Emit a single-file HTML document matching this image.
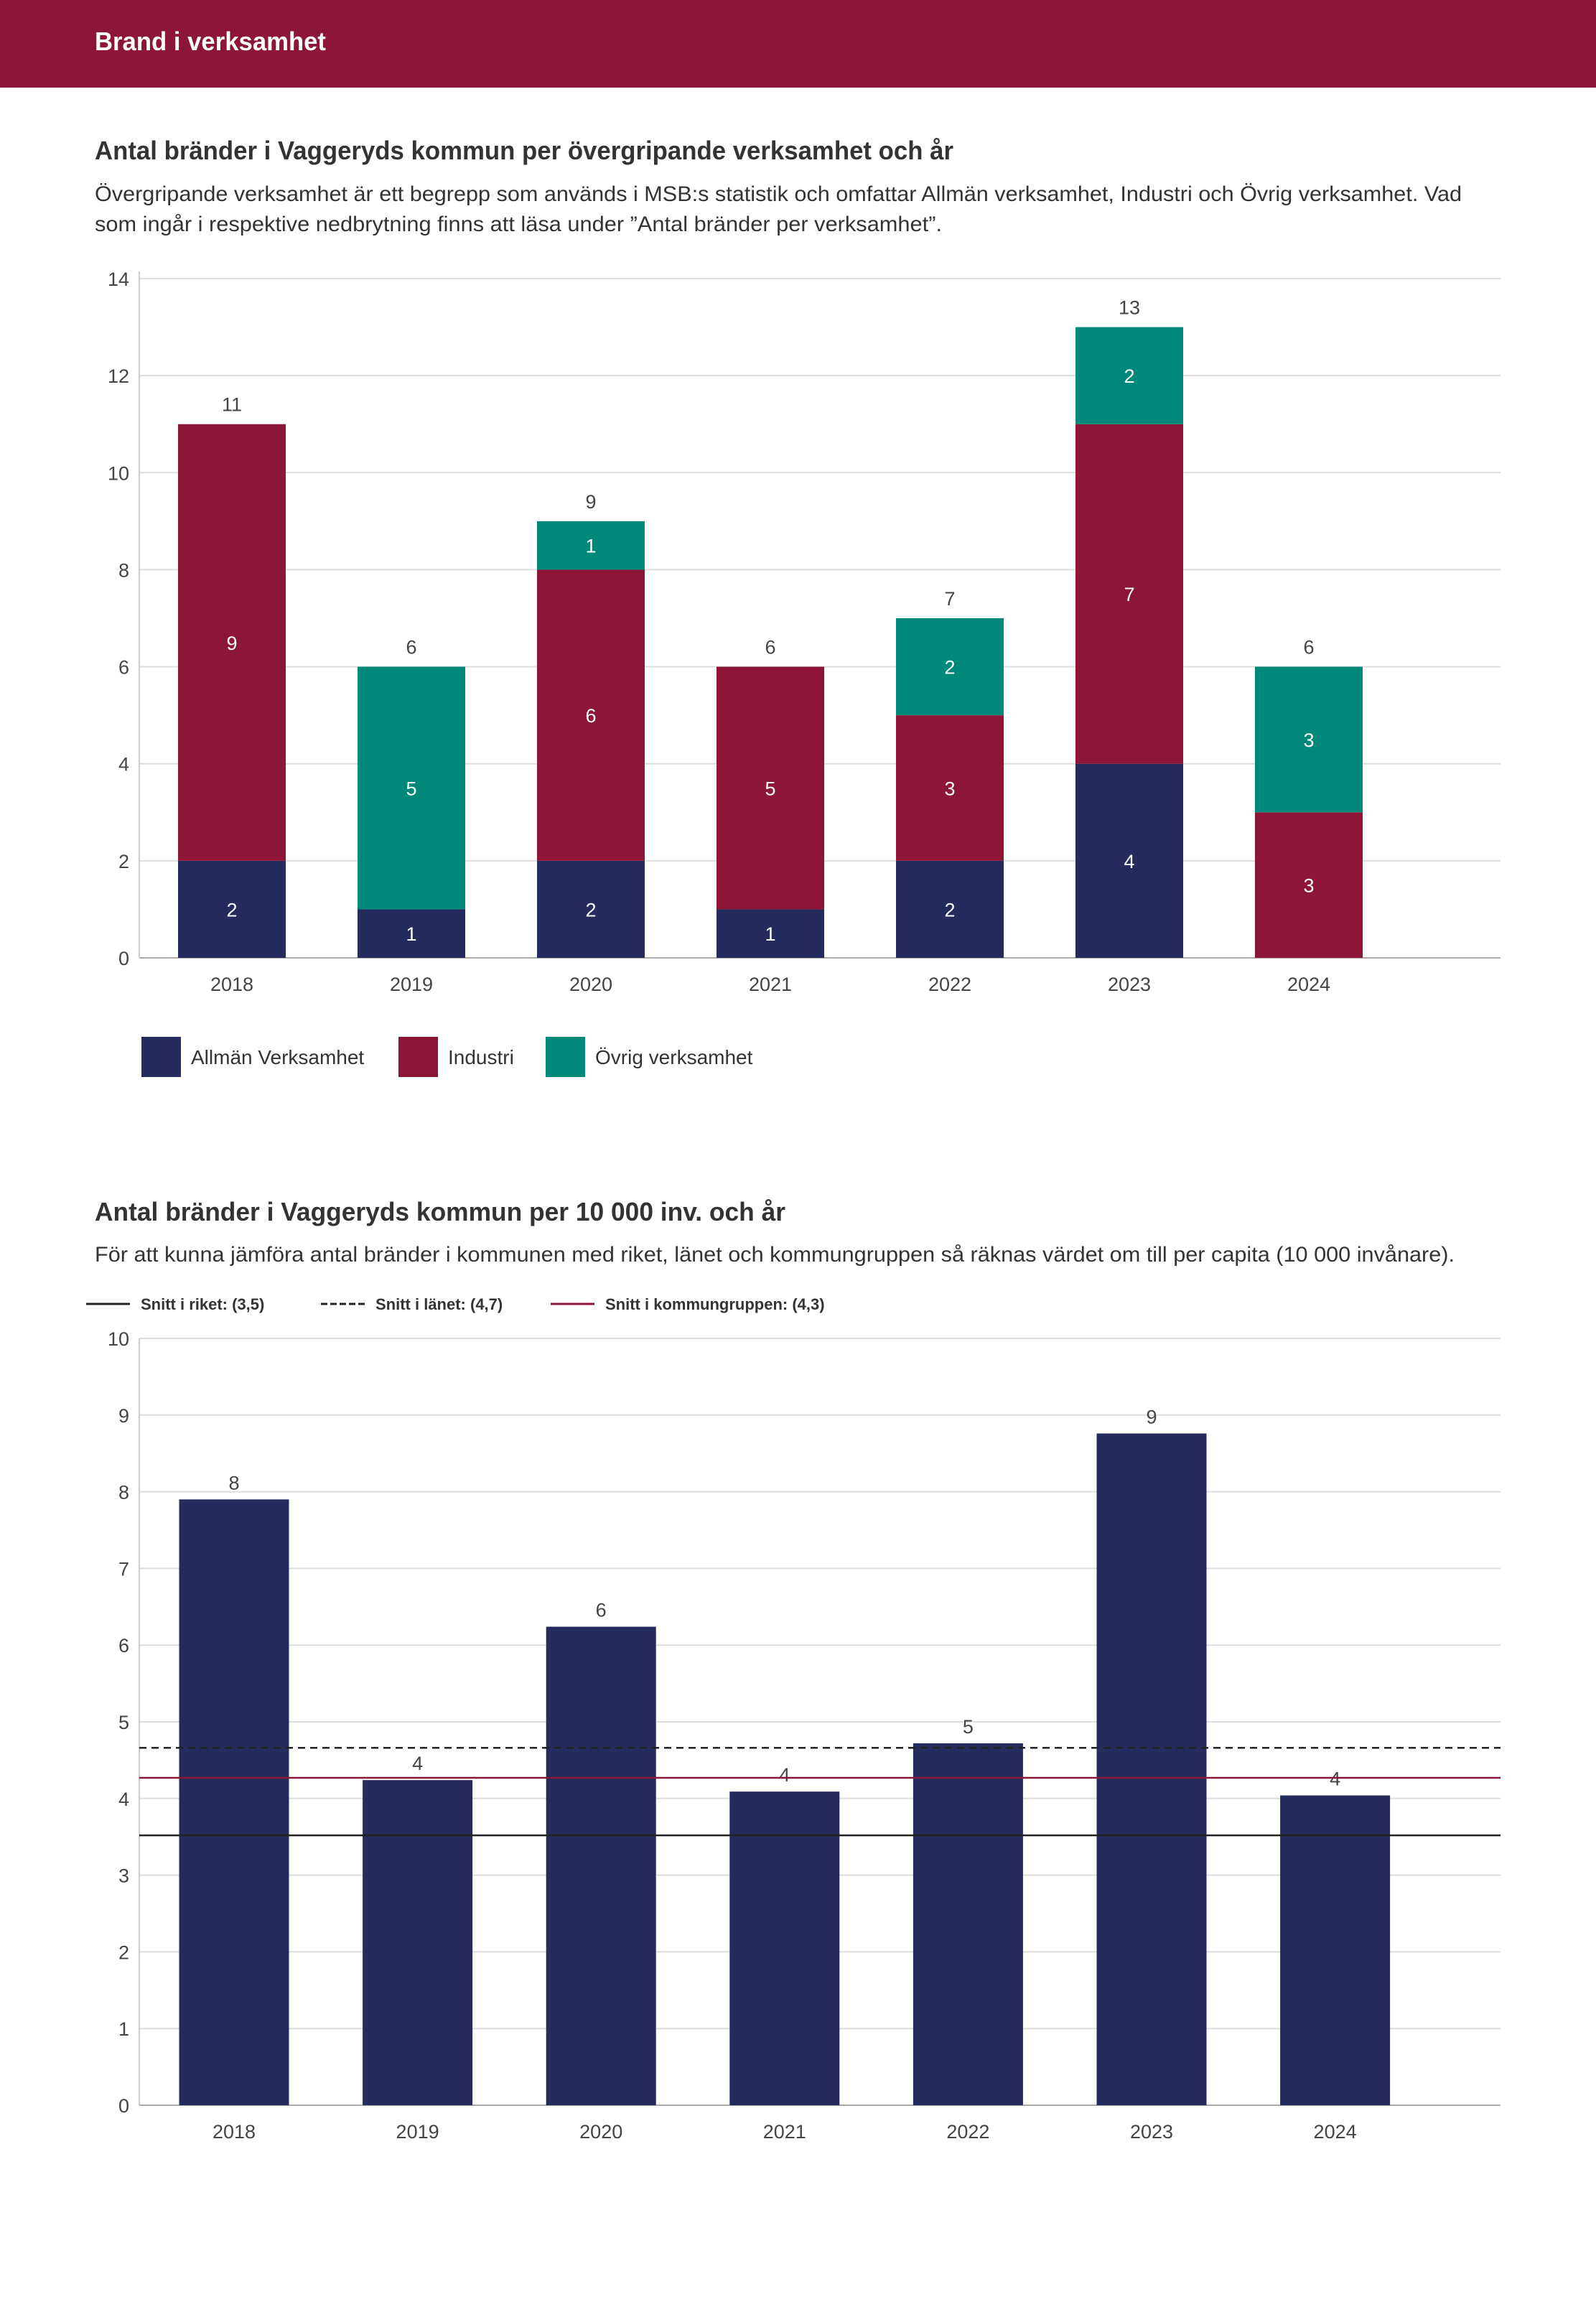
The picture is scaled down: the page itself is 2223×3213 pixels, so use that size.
<!DOCTYPE html>
<html><head><meta charset="utf-8"><style>
html,body{margin:0;padding:0;background:#fff;}
svg{display:block;font-family:"Liberation Sans",sans-serif;}
</style></head><body>
<svg id="page" width="2223" height="3213" viewBox="0 0 2223 3213" xmlns="http://www.w3.org/2000/svg">
<rect x="0" y="0" width="2223" height="122" fill="#8c1538"/>
<text x="132" y="70" fill="#fff" font-size="36" font-weight="bold" textLength="322" lengthAdjust="spacingAndGlyphs">Brand i verksamhet</text>
<text x="132" y="222" fill="#333" font-size="36" font-weight="bold" textLength="1196" lengthAdjust="spacingAndGlyphs">Antal bränder i Vaggeryds kommun per övergripande verksamhet och år</text>
<text x="132" y="280" fill="#333" font-size="30" textLength="1904" lengthAdjust="spacingAndGlyphs">Övergripande verksamhet är ett begrepp som används i MSB:s statistik och omfattar Allmän verksamhet, Industri och Övrig verksamhet. Vad</text>
<text x="132" y="322" fill="#333" font-size="30" textLength="1180" lengthAdjust="spacingAndGlyphs">som ingår i respektive nedbrytning finns att läsa under ”Antal bränder per verksamhet”.</text>
<g id="c1"></g>
<g id="l1"></g>
<text x="132" y="1700" fill="#333" font-size="36" font-weight="bold" textLength="962" lengthAdjust="spacingAndGlyphs">Antal bränder i Vaggeryds kommun per 10 000 inv. och år</text>
<text x="132" y="1757" fill="#333" font-size="30" textLength="1894" lengthAdjust="spacingAndGlyphs">För att kunna jämföra antal bränder i kommunen med riket, länet och kommungruppen så räknas värdet om till per capita (10 000 invånare).</text>
<g id="l2"></g>
<g id="c2"></g>
</svg>
<script>
const years = ["2018","2019","2020","2021","2022","2023","2024"];
const allman = [2,1,2,1,2,4,0];
const industri = [9,0,6,5,3,7,3];
const ovrig = [0,5,1,0,2,2,3];
const ticks1 = [0,2,4,6,8,10,12,14];
const perCapita = [7.9,4.24,6.24,4.09,4.72,8.76,4.04];
const perCapitaLabels = ["8","4","6","4","5","9","4"];
const ticks2 = [0,1,2,3,4,5,6,7,8,9,10];
const refNames = ["Snitt i riket: (3,5)","Snitt i länet: (4,7)","Snitt i kommungruppen: (4,3)"];
const refValues = [3.52,4.66,4.27];

const NS="http://www.w3.org/2000/svg";
function mk(parent,tag,attrs,txt){const e=document.createElementNS(NS,tag);for(const k in attrs)e.setAttribute(k,attrs[k]);if(txt!==undefined)e.textContent=txt;parent.appendChild(e);return e;}
const NAVY="#252b5c",RED="#8c1538",TEAL="#00897b";

// Chart 1
(function(){
const g=document.getElementById('c1');
const L=194,R=2090,Y0=1334,Y1=388,maxV=14;
const y=v=>Y0-(v/maxV)*(Y0-Y1);
const cx=i=>323+i*250;
const bw=150;
ticks1.forEach(t=>{
 const ln=mk(g,'line',{x1:L,x2:R,y1:y(t),y2:y(t),stroke:t===0?'#aaa':'#ddd','stroke-width':2});
 
 
 const tx=mk(g,'text',{x:L-14,y:y(t)+10,'text-anchor':'end','font-size':27,fill:'#444'},String(t));
 
 
});
const ax=mk(g,'line',{x1:L,x2:L,y1:Y1-10,y2:Y0,stroke:'#ccc','stroke-width':2});


const series=[[allman,NAVY],[industri,RED],[ovrig,TEAL]];
years.forEach((yr,i)=>{
 let base=0;
 series.forEach(([arr,col])=>{
  const v=arr[i]; if(!v) return;
  const r=mk(g,'rect',{x:cx(i)-bw/2,y:y(base+v),width:bw,height:y(base)-y(base+v),fill:col});
  
  
  const t=mk(g,'text',{x:cx(i),y:(y(base)+y(base+v))/2+10,'text-anchor':'middle','font-size':27,fill:'#fff'},String(v));
  
  
  base+=v;
 });
 const tt=mk(g,'text',{x:cx(i),y:y(base)-18,'text-anchor':'middle','font-size':27,fill:'#444'},String(base));
 
 
 const xl=mk(g,'text',{x:cx(i),y:1380,'text-anchor':'middle','font-size':27,fill:'#444'},yr);
 
 
});
const lg=document.getElementById('l1');
[["Allmän Verksamhet",NAVY,197],["Industri",RED,555],["Övrig verksamhet",TEAL,760]].forEach(([n,c,x])=>{
 const r=mk(lg,'rect',{x:x,y:1444,width:55,height:56,fill:c});
 
 
 const t=mk(lg,'text',{x:x+69,y:1482,'font-size':28,fill:'#333'},n);
 
 
});
})();

// Chart 2
(function(){
const g=document.getElementById('c2');
const L=194,R=2090,Y0=2932,Y1=1864,maxV=10;
const y=v=>Y0-(v/maxV)*(Y0-Y1);
const cx=i=>326+i*255.6;
const bw=153;
ticks2.forEach(t=>{
 const ln=mk(g,'line',{x1:L,x2:R,y1:y(t),y2:y(t),stroke:t===0?'#aaa':'#ddd','stroke-width':2});
 
 
 const tx=mk(g,'text',{x:L-14,y:y(t)+10,'text-anchor':'end','font-size':27,fill:'#444'},String(t));
 
 
});
const ax=mk(g,'line',{x1:L,x2:L,y1:Y1,y2:Y0,stroke:'#ccc','stroke-width':2});


years.forEach((yr,i)=>{
 const r=mk(g,'rect',{x:cx(i)-bw/2,y:y(perCapita[i]),width:bw,height:Y0-y(perCapita[i]),fill:NAVY});
 
 
 const t=mk(g,'text',{x:cx(i),y:y(perCapita[i])-14,'text-anchor':'middle','font-size':27,fill:'#444'},perCapitaLabels[i]);
 
 
 const xl=mk(g,'text',{x:cx(i),y:2978,'text-anchor':'middle','font-size':27,fill:'#444'},yr);
 
 
});
const styles=[['#222',''],['#222','10,7'],[RED,'']];
refValues.forEach((v,k)=>{
 const a={x1:L,x2:R,y1:y(v),y2:y(v),stroke:styles[k][0],'stroke-width':2.5};
 if(styles[k][1]) a['stroke-dasharray']=styles[k][1];
 const ln=mk(g,'line',a);
 
 
});
const lg=document.getElementById('l2');
const lx=[120,447,767];
refNames.forEach((n,k)=>{
 const a={x1:lx[k],x2:lx[k]+61,y1:1816,y2:1816,stroke:styles[k][0],'stroke-width':3};
 if(styles[k][1]) a['stroke-dasharray']='9,4';
 const ln=mk(lg,'line',a);
 
 
 const t=mk(lg,'text',{x:lx[k]+76,y:1824,'font-size':22,'font-weight':'bold',fill:'#333'},n);
 
 
});
})();
</script>
</body></html>
